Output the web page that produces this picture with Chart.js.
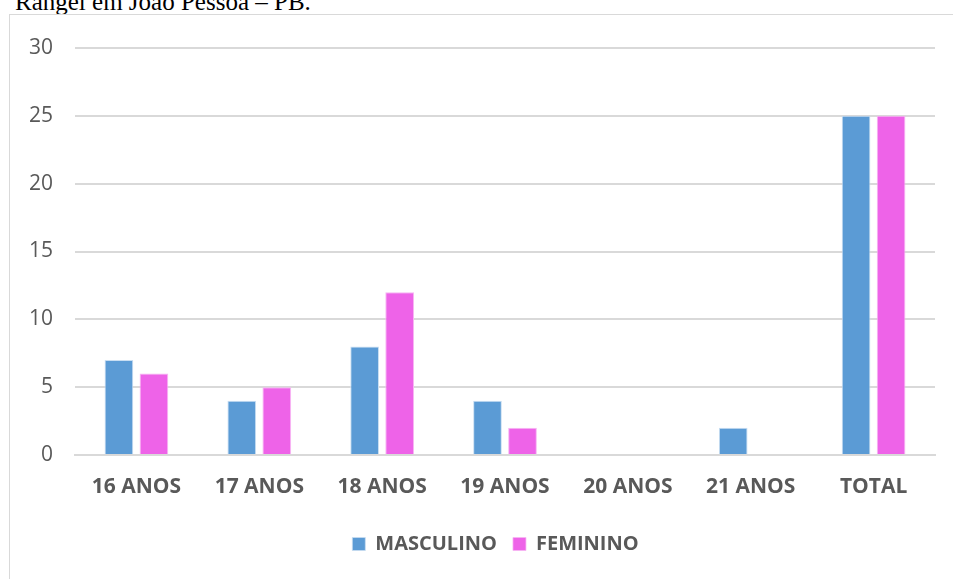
<!DOCTYPE html>
<html><head><meta charset="utf-8">
<script src="https://cdn.jsdelivr.net/npm/chart.js@4"></script>
<style>
html,body{margin:0;padding:0;background:#fff;overflow:hidden;width:953px;height:579px;}
#cap{position:absolute;left:15px;top:-12px;font-family:"Liberation Serif","Times New Roman",serif;font-size:25px;color:#000;white-space:nowrap;}
#box{position:absolute;left:9px;top:14px;width:980px;height:600px;border:1px solid #d9d9d9;box-sizing:border-box;}
#wrap{position:absolute;left:0;top:0;width:953px;height:579px;}
</style></head>
<body>
<div id="cap">Rangel em João Pessoa – PB.</div>
<div id="box"></div>
<div id="wrap"><canvas id="c"></canvas></div>
<script>
const categories = ["16 ANOS","17 ANOS","18 ANOS","19 ANOS","20 ANOS","21 ANOS","TOTAL"];
const masculino = [7,4,8,4,0,2,25];
const feminino = [6,5,12,2,0,0,25];
const yTicks = [0,5,10,15,20,25,30];

const shiftLegend = {
  id:'shiftLegend',
  afterLayout(chart){ if(chart.legend){ chart.legend.left += 28; chart.legend.right += 28; } }
};

new Chart(document.getElementById('c'), {
  type:'bar',
  data:{labels:categories,datasets:[
    {label:'MASCULINO',data:masculino,backgroundColor:'#5B9BD5',borderColor:'#c9def2',borderWidth:{left:1,right:1,top:1,bottom:0},barPercentage:0.82,categoryPercentage:0.57},
    {label:'FEMININO',data:feminino,backgroundColor:'#EE63E8',borderColor:'#f7b5f3',borderWidth:{left:1,right:1,top:1,bottom:0},barPercentage:0.82,categoryPercentage:0.57}
  ]},
  plugins:[shiftLegend],
  options:{
    responsive:true,maintainAspectRatio:false,animation:false,
    layout:{padding:{left:0,right:18,top:48,bottom:15}},
    plugins:{
      tooltip:{enabled:false},
      legend:{position:'bottom',labels:{boxWidth:13,boxHeight:13,padding:16,color:'#595959',font:{family:'"Open Sans"',size:20,weight:'bold'}}}
    },
    scales:{
      x:{grid:{display:false,drawTicks:false},border:{color:'#d9d9d9',width:2},
         ticks:{color:'#595959',padding:19,font:{family:'"Open Sans"',size:21,weight:'bold'}},
         afterFit(s){s.height=63;}},
      y:{min:0,max:30,afterBuildTicks(s){s.ticks=yTicks.map(v=>({value:v}));},
         grid:{color:'#d9d9d9',lineWidth:2,drawTicks:false},border:{display:false},
         ticks:{color:'#595959',padding:22,font:{family:'"Open Sans"',size:21}},
         afterFit(s){s.width=75;}}
    }
  }
});
</script>
</body></html>
